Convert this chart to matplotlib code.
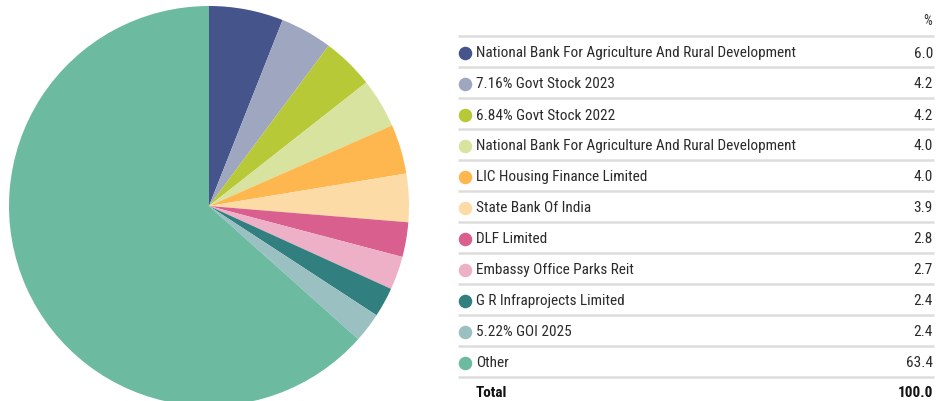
import matplotlib
matplotlib.use('Agg')
import matplotlib.pyplot as plt
from matplotlib import font_manager

names = ['National Bank For Agriculture And Rural Development',
         '7.16% Govt Stock 2023',
         '6.84% Govt Stock 2022',
         'National Bank For Agriculture And Rural Development',
         'LIC Housing Finance Limited',
         'State Bank Of India',
         'DLF Limited',
         'Embassy Office Parks Reit',
         'G R Infraprojects Limited',
         '5.22% GOI 2025',
         'Other']
values = [6.0, 4.2, 4.2, 4.0, 4.0, 3.9, 2.8, 2.7, 2.4, 2.4, 63.4]
colors = ['#45548A', '#9EA6C0', '#B8C937', '#D9E3A0', '#FDB74E', '#FDDBA6',
          '#D95F8E', '#EEB0C6', '#327F80', '#9BC0C2', '#6CBBA0']
total = 100.0

avail = {f.name for f in font_manager.fontManager.ttflist}
fam = [f for f in ['Liberation Sans Narrow', 'Roboto Condensed', 'Roboto', 'DejaVu Sans'] if f in avail]
plt.rcParams['font.family'] = fam

W, H = 948, 402
fig = plt.figure(figsize=(W/100, H/100), dpi=100)

# pie: centre ~(209,207) px, radius ~200 px
cx, cy, r = 209, 207, 200
axp = fig.add_axes([(cx-r)/W, (H-cy-r)/H, 2*r/W, 2*r/H])
axp.pie(values, colors=colors, startangle=90, counterclock=False,
        wedgeprops=dict(linewidth=0))
axp.set_xlim(-1, 1)
axp.set_ylim(-1, 1)
axp.set_aspect('equal')
axp.axis('off')

# table legend drawn in pixel coords
ax = fig.add_axes([0, 0, 1, 1])
ax.set_xlim(0, W)
ax.set_ylim(H, 0)
ax.axis('off')

x0, x1 = 458, 934
top = 37
step = 31
ax.text(x1-2, 21, '%', ha='right', va='center', fontsize=10, color='#333333')
for i, (n, v, c) in enumerate(zip(names, values, colors)):
    yl = top + i*step
    ax.plot([x0, x1], [yl, yl], color='#DDDDDD', lw=1.8, solid_capstyle='butt')
    yc = yl + 16.5
    ax.scatter([465], [yc], s=95, color=c, linewidths=0)
    ax.text(476, yc, n, ha='left', va='center', fontsize=11, color='#2a2a2a')
    ax.text(x1-1, yc, '%.1f' % v, ha='right', va='center', fontsize=11, color='#2a2a2a')
yl = top + len(names)*step
ax.plot([x0, x1], [yl, yl], color='#DDDDDD', lw=1.8, solid_capstyle='butt')
ax.text(476, yl + 15.5, 'Total', ha='left', va='center', fontsize=11,
        fontweight='bold', color='#111111')
ax.text(x1-1, yl + 15.5, '%.1f' % total, ha='right', va='center', fontsize=11,
        fontweight='bold', color='#111111')

fig.savefig('out.png', dpi=100)
